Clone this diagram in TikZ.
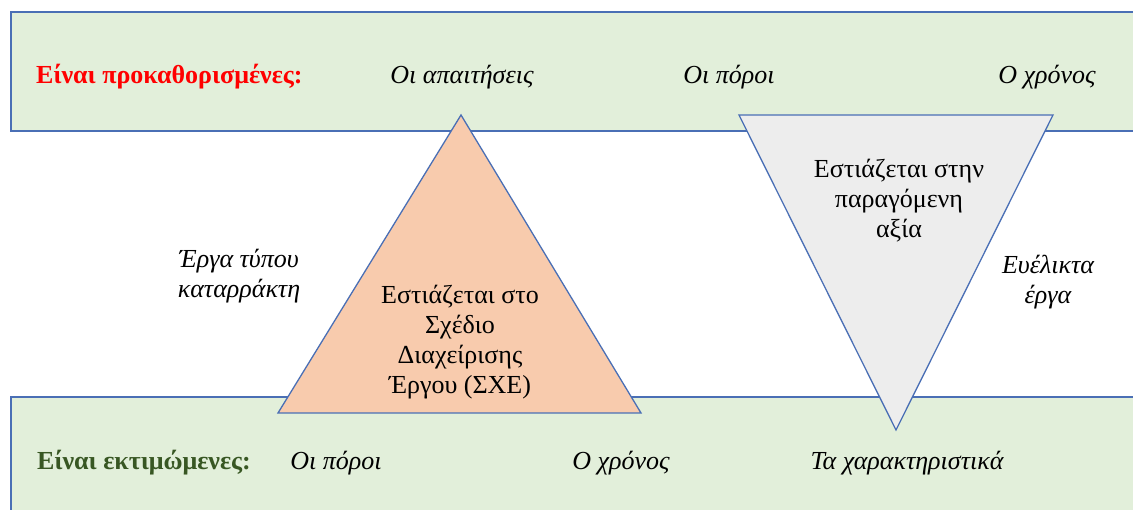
\documentclass[tikz,border=0pt]{standalone}
\usepackage{fontspec}
\setmainfont{Liberation Serif}
\definecolor{bandfill}{HTML}{E2EFDA}
\definecolor{edgeblue}{HTML}{4A6FB5}
\definecolor{orangefill}{HTML}{F8CBAD}
\definecolor{greyfill}{HTML}{EDEDED}
\definecolor{darkgreen}{HTML}{385723}
\begin{document}
\begin{tikzpicture}[x=1pt,y=-1pt,
  edge/.style={draw=edgeblue,line width=1.3pt},
  lbl/.style={font=\fontsize{26}{30}\selectfont\itshape,align=center,inner sep=0pt},
  tri/.style={font=\fontsize{26}{30}\selectfont,align=center,inner sep=0pt},
  head/.style={font=\fontsize{26}{30}\selectfont\bfseries,anchor=west,inner sep=0pt}]
\useasboundingbox (0,0) rectangle (1133,510);
% bands
\fill[bandfill] (11,12) rectangle (1133,131);
\draw[edge] (1133,12) -- (11,12) -- (11,131) -- (1133,131);
\fill[bandfill] (11,397) rectangle (1133,510);
\draw[edge] (1133,397) -- (11,397) -- (11,510);
% triangles
\coordinate (oa) at (461,115);
\coordinate (ob) at (641,413);
\coordinate (oc) at (278,413);
\filldraw[edge,fill=orangefill,line join=miter] (oa) -- (ob) -- (oc) -- cycle;
\coordinate (ga) at (739,115);
\coordinate (gb) at (1053,115);
\coordinate (gc) at (896,430);
\filldraw[edge,fill=greyfill,line join=miter] (ga) -- (gb) -- (gc) -- cycle;
% texts
\node[head,text=red] (h1) at (36,77) {Είναι προκαθορισμένες:};
\node[lbl] (t1) at (462,77) {Οι απαιτήσεις};
\node[lbl] (t2) at (729,77) {Οι πόροι};
\node[lbl] (t3) at (1047,77) {Ο χρόνος};
\node[lbl] (w) at (239,276) {Έργα τύπου\\καταρράκτη};
\node[lbl] (ag) at (1048,282) {Ευέλικτα\\έργα};
\node[tri] (pm) at (460,342) {Εστιάζεται στο\\Σχέδιο\\Διαχείρισης\\Έργου (ΣΧΕ)};
\node[tri] (val) at (899,201) {Εστιάζεται στην\\παραγόμενη\\αξία};
\node[head,text=darkgreen] (h2) at (37,463) {Είναι εκτιμώμενες:};
\node[lbl] (b1) at (336,463) {Οι πόροι};
\node[lbl] (b2) at (621,463) {Ο χρόνος};
\node[lbl] (b3) at (907,463) {Τα χαρακτηριστικά};
\end{tikzpicture}
\end{document}
